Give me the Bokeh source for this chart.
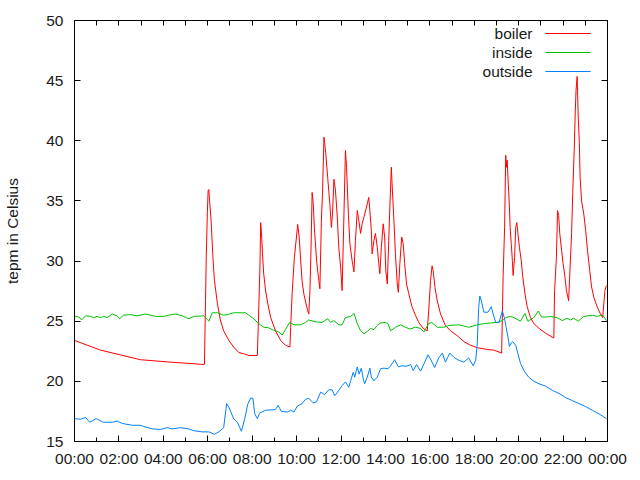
from bokeh.plotting import figure
from bokeh.models import Range1d, FixedTicker, LinearAxis, Label, ColumnDataSource
from bokeh.embed import file_html
from bokeh.resources import INLINE

# ---- data (minutes since midnight, temperature in Celsius) ----
series_names = ["boiler", "inside", "outside"]
series_colors = ["#ff0000", "#00c000", "#0080ff"]

boiler_min = [0, 70, 124, 178, 259, 351, 352, 354, 356, 359, 361, 363, 365, 369, 374, 378, 386, 394, 403,
              417, 430, 444, 457, 471, 494, 496, 501, 503, 505, 508, 511, 516, 522, 530, 543, 557, 570,
              582, 584, 588, 594, 602, 603, 607, 611, 615, 620, 629, 633, 636, 639, 642, 645, 648, 654,
              660, 663, 667, 670, 674, 676, 679, 684, 690, 694, 697, 701, 705, 710, 714, 719, 723, 728,
              732, 735, 740, 744, 750, 755, 759, 764, 768, 773, 777, 782, 791, 795, 798, 802, 804, 809,
              813, 818, 822, 825, 829, 834, 838, 841, 845, 849, 852, 856, 858, 863, 867, 872, 875, 879,
              884, 888, 892, 897, 903, 912, 921, 930, 942, 953, 957, 962, 966, 969, 974, 980, 989, 1002,
              1016, 1034, 1052, 1070, 1088, 1115, 1133, 1154, 1158, 1162, 1165, 1167, 1169, 1172, 1175,
              1177, 1180, 1183, 1185, 1189, 1192, 1195, 1198, 1202, 1207, 1211, 1217, 1223, 1232, 1241,
              1255, 1273, 1295, 1297, 1302, 1305, 1308, 1311, 1316, 1320, 1325, 1329, 1334, 1335, 1339,
              1343, 1346, 1350, 1353, 1355, 1358, 1361, 1364, 1366, 1370, 1376, 1381, 1386, 1392, 1397,
              1403, 1412, 1421, 1427, 1430, 1433, 1437]
boiler_temp = [23.4, 22.6, 22.2, 21.8, 21.6, 21.4, 23.1, 26.7, 30.5, 34.1, 35.85, 35.95, 35.0, 33.4, 30.3,
               28.4, 26.5, 25.1, 24.2, 23.4, 22.85, 22.4, 22.3, 22.15, 22.15, 24.1, 29.5, 33.2, 32.4, 30.6,
               29.0, 27.6, 26.5, 25.3, 24.2, 23.4, 23.0, 22.85, 24.5, 27.3, 30.3, 32.7, 33.05, 32.0, 30.1,
               28.3, 27.2, 26.0, 25.6, 27.5, 31.0, 35.7, 34.8, 32.8, 30.05, 28.4, 27.7, 33.4, 35.6, 40.3,
               39.75, 38.9, 36.95, 34.7, 32.8, 33.9, 36.8, 35.9, 33.65, 31.15, 29.5, 27.55, 33.9, 39.2,
               37.8, 33.9, 31.45, 30.05, 29.1, 31.7, 34.2, 33.4, 32.3, 33.1, 33.65, 34.75, 35.3, 34.2,
               32.55, 30.6, 31.7, 32.3, 31.15, 29.8, 28.95, 31.15, 33.1, 32.0, 29.2, 28.1, 31.7, 34.5,
               37.8, 36.4, 33.4, 30.6, 28.1, 27.4, 29.8, 32.0, 31.45, 29.8, 28.1, 27.3, 26.2, 25.5, 24.9,
               24.4, 24.2, 25.9, 28.4, 29.6, 29.2, 27.8, 26.7, 25.6, 24.65, 24.2, 23.8, 23.3, 23.0, 22.8,
               22.65, 22.6, 22.35, 28.7, 32.8, 38.8, 37.8, 38.4, 36.4, 34.5, 32.8, 31.45, 30.05, 28.8,
               30.3, 32.8, 33.2, 32.3, 31.15, 30.05, 28.7, 27.3, 26.2, 25.3, 24.8, 24.4, 24.0, 23.6,
               27.55, 30.3, 34.2, 33.8, 32.3, 30.9, 29.8, 28.7, 27.55, 26.85, 26.7, 29.5, 32.3, 35.6,
               39.2, 42.5, 44.2, 45.35, 41.95, 39.75, 36.95, 35.0, 33.9, 32.55, 30.9, 29.2, 27.85, 27.0,
               26.2, 25.6, 25.3, 26.45, 27.55, 27.95]

inside_min = [0, 12, 19, 30, 43, 52, 61, 70, 79, 88, 102, 115, 122, 132, 151, 169, 192, 219, 241, 255,
              273, 291, 309, 322, 349, 359, 363, 372, 386, 403, 413, 430, 462, 471, 484, 498, 511, 525,
              534, 543, 552, 561, 570, 581, 593, 611, 624, 633, 651, 669, 684, 692, 701, 714, 723, 732,
              746, 755, 764, 773, 782, 791, 800, 809, 818, 827, 840, 847, 854, 867, 881, 894, 906, 921,
              935, 944, 957, 965, 980, 998, 1011, 1038, 1052, 1065, 1088, 1106, 1124, 1142, 1156, 1165,
              1178, 1187, 1205, 1217, 1225, 1241, 1253, 1262, 1277, 1286, 1304, 1318, 1331, 1340, 1349,
              1361, 1376, 1399, 1412, 1424, 1430, 1437]
inside_temp = [25.4, 25.35, 25.1, 25.45, 25.4, 25.3, 25.4, 25.3, 25.4, 25.3, 25.6, 25.45, 25.2, 25.5,
               25.55, 25.45, 25.6, 25.4, 25.4, 25.5, 25.6, 25.45, 25.2, 25.4, 25.45, 25.15, 25.0, 25.7,
               25.7, 25.5, 25.55, 25.7, 25.7, 25.5, 25.2, 24.8, 24.5, 24.45, 24.3, 24.2, 24.1, 23.85,
               24.3, 24.9, 24.7, 24.7, 24.9, 25.1, 24.95, 24.9, 25.2, 24.9, 25.05, 24.7, 24.7, 25.3,
               25.4, 25.65, 24.8, 24.2, 23.95, 24.15, 24.4, 24.3, 24.65, 24.85, 24.9, 24.8, 24.2, 24.5,
               24.7, 24.5, 24.35, 24.5, 24.4, 24.1, 24.8, 24.9, 24.5, 24.5, 24.65, 24.7, 24.6, 24.5,
               24.7, 24.8, 24.85, 24.9, 25.05, 25.3, 25.4, 25.3, 25.0, 25.65, 25.0, 25.3, 25.85, 25.35,
               25.35, 25.4, 25.3, 25.05, 25.25, 25.1, 25.25, 25.0, 25.4, 25.5, 25.4, 25.5, 25.4, 25.05]

outside_min = [0, 16, 30, 41, 59, 78, 102, 115, 129, 156, 178, 187, 210, 232, 250, 264, 286, 309, 322,
               345, 363, 378, 390, 403, 411, 417, 430, 440, 451, 460, 468, 476, 482, 487, 494, 500, 516,
               543, 550, 559, 575, 584, 593, 602, 615, 624, 633, 645, 654, 665, 676, 687, 696, 703, 714,
               723, 732, 741, 746, 753, 757, 764, 769, 775, 780, 784, 791, 798, 802, 809, 818, 827, 836,
               847, 854, 865, 875, 885, 897, 908, 915, 924, 935, 944, 955, 962, 973, 984, 994, 1002,
               1014, 1025, 1038, 1052, 1065, 1077, 1084, 1088, 1092, 1095, 1100, 1106, 1117, 1126, 1131,
               1138, 1147, 1156, 1162, 1166, 1171, 1175, 1180, 1184, 1192, 1198, 1205, 1214, 1227, 1241,
               1255, 1273, 1291, 1309, 1327, 1345, 1363, 1381, 1399, 1417, 1437]
outside_temp = [16.9, 16.85, 17.0, 16.6, 16.9, 16.6, 16.6, 16.7, 16.5, 16.35, 16.35, 16.25, 16.05, 16.0,
                16.15, 16.05, 16.15, 16.05, 15.9, 15.8, 15.8, 15.6, 15.8, 16.15, 18.15, 17.85, 16.9, 16.6,
                15.85, 16.9, 18.1, 18.6, 18.6, 17.3, 16.9, 17.35, 17.6, 17.65, 18.0, 17.5, 17.45, 17.6,
                17.45, 17.95, 18.15, 18.5, 18.6, 18.2, 18.3, 19.1, 18.9, 19.3, 19.3, 18.8, 19.25, 19.65,
                19.95, 19.5, 20.05, 20.75, 20.35, 21.2, 20.6, 21.1, 20.2, 19.8, 20.35, 21.1, 20.35, 20.05,
                20.35, 21.05, 21.1, 21.05, 21.3, 21.8, 21.2, 21.3, 21.25, 21.4, 20.9, 21.4, 20.85, 21.45,
                22.2, 21.85, 21.15, 21.95, 22.35, 21.6, 22.35, 22.0, 21.75, 21.6, 21.95, 21.3, 21.75,
                23.1, 26.15, 27.1, 26.6, 25.75, 25.75, 26.2, 25.6, 24.9, 24.9, 25.85, 25.2, 24.5, 23.7,
                22.9, 23.2, 23.3, 23.0, 22.3, 21.5, 20.9, 20.35, 20.0, 19.8, 19.6, 19.25, 19.0, 18.65,
                18.4, 18.15, 17.9, 17.6, 17.3, 16.9]

x_ticks = [0, 120, 240, 360, 480, 600, 720, 840, 960, 1080, 1200, 1320, 1440]
x_tick_labels = ["00:00", "02:00", "04:00", "06:00", "08:00", "10:00", "12:00",
                 "14:00", "16:00", "18:00", "20:00", "22:00", "00:00"]
x_minor_ticks = [60, 180, 300, 420, 540, 660, 780, 900, 1020, 1140, 1260, 1380]
y_ticks = [15, 20, 25, 30, 35, 40, 45, 50]
y_label = "tepm in Celsius"

FONT = "Liberation Sans"
FS = "15.5px"
TXT = "#1a1a1a"

X0, X1 = 0, 1440
Y0, Y1 = 15, 50

p = figure(width=640, height=480, x_range=Range1d(X0, X1), y_range=Range1d(Y0, Y1),
           output_backend="svg", toolbar_location=None,
           min_border_left=74, min_border_right=33, min_border_top=20, min_border_bottom=39)
p.background_fill_color = "white"
p.border_fill_color = "white"
p.outline_line_color = "black"
p.outline_line_width = 1
p.xgrid.visible = False
p.ygrid.visible = False


def style_axis(ax):
    ax.axis_line_color = "black"
    ax.major_tick_in = 6
    ax.major_tick_out = 0
    ax.minor_tick_in = 4
    ax.minor_tick_out = 0
    ax.major_tick_line_color = "black"
    ax.minor_tick_line_color = "black"
    ax.major_label_text_font = FONT
    ax.major_label_text_font_size = FS
    ax.major_label_text_color = TXT


xa = p.xaxis[0]
xa.ticker = FixedTicker(ticks=x_ticks, minor_ticks=x_minor_ticks)
xa.major_label_overrides = {t: l for t, l in zip(x_ticks, x_tick_labels)}
style_axis(xa)
xa.major_label_standoff = 8

ya = p.yaxis[0]
ya.ticker = FixedTicker(ticks=y_ticks, minor_ticks=[])
style_axis(ya)
ya.major_label_standoff = 11
ya.axis_label = y_label
ya.axis_label_text_font = FONT
ya.axis_label_text_font_size = FS
ya.axis_label_text_font_style = "normal"
ya.axis_label_text_color = TXT
ya.axis_label_standoff = 22

# mirrored tick marks (no labels): ticks given only as "minor" so no label text is produced
top = LinearAxis(ticker=FixedTicker(ticks=[], minor_ticks=sorted(x_ticks + x_minor_ticks)))
top.axis_line_color = "black"
top.minor_tick_in = 5
top.minor_tick_out = 0
top.minor_tick_line_color = "black"
p.add_layout(top, "above")

right = LinearAxis(ticker=FixedTicker(ticks=[], minor_ticks=y_ticks))
right.axis_line_color = "black"
right.minor_tick_in = 6
right.minor_tick_out = 0
right.minor_tick_line_color = "black"
p.add_layout(right, "right")

xs = [boiler_min, inside_min, outside_min]
ys = [boiler_temp, inside_temp, outside_temp]
for xv, yv, c in zip(xs, ys, series_colors):
    p.line(xv, yv, line_color=c, line_width=1)


# gnuplot-style key (text, then sample line), placed by frame pixel position
def px_x(px):
    return X0 + (px - 74) * (X1 - X0) / 533.0


def px_y(py):
    return Y1 - (py - 20) * (Y1 - Y0) / 421.0


key_y = [px_y(33 + 19 * i) for i in range(len(series_names))]
for name, yy in zip(series_names, key_y):
    p.add_layout(Label(x=px_x(532), y=yy, text=name, text_align="right", text_baseline="middle",
                       text_font=FONT, text_font_size=FS, text_color=TXT))
key_src = ColumnDataSource(dict(x0=[px_x(545)] * len(series_names), x1=[px_x(590)] * len(series_names),
                                y=key_y, color=series_colors))
p.segment(x0="x0", y0="y", x1="x1", y1="y", line_color="color", line_width=1, source=key_src)

open("out.html", "w").write(file_html(p, INLINE))
